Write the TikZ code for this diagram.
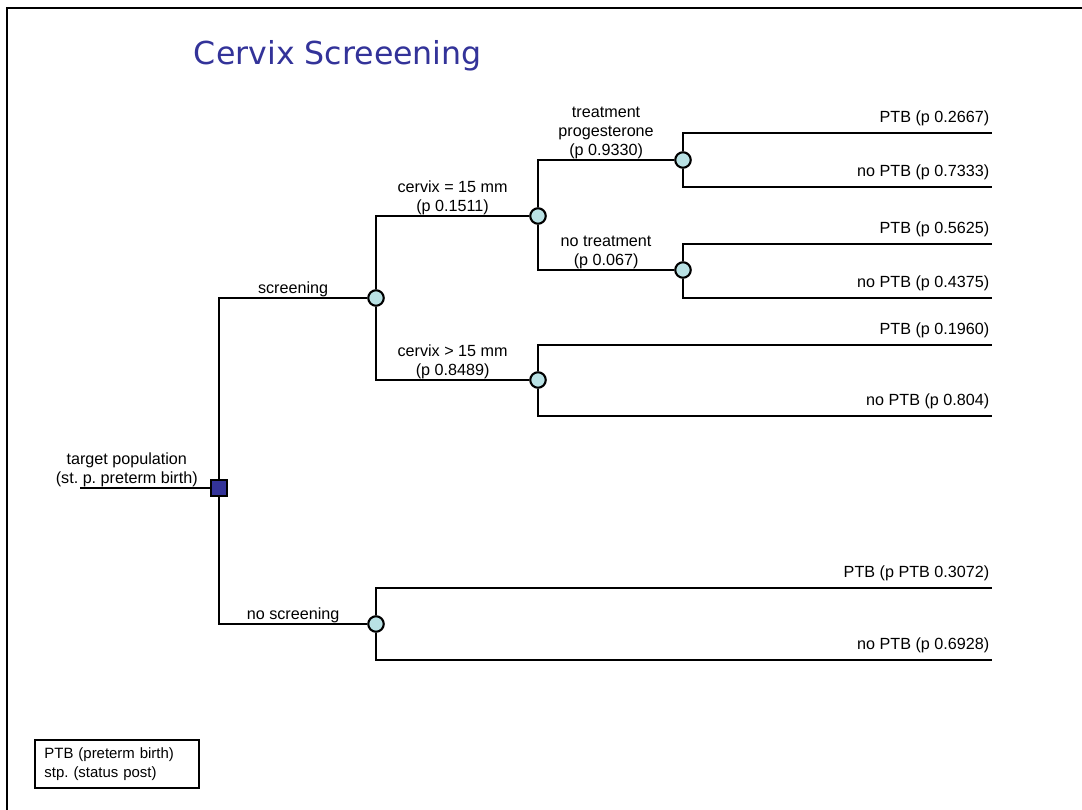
\documentclass[tikz,border=0pt]{standalone}
\usepackage{fontspec}
\setmainfont{Liberation Sans}
\newfontfamily\titlefont{DejaVu Sans}
\definecolor{chancefill}{RGB}{185,225,228}
\definecolor{deepblue}{RGB}{51,51,153}
\frenchspacing

\begin{document}
\begin{tikzpicture}[x=0.02cm,y=-0.02cm,line width=1.1pt,
  every node/.style={font=\fontsize{9.2}{10.8}\selectfont},
  decision/.style={draw,fill=deepblue,minimum size=0.32cm,inner sep=0,line width=1.2pt},
  chance/.style={draw,circle,fill=chancefill,minimum size=0.31cm,inner sep=0,line width=1.2pt},
  branch/.style={pos=.75,anchor=south,align=center,inner sep=0,text depth=2pt},
  leaf/.style={anchor=east,yshift=0.3cm,xshift=-1pt,inner sep=0}]
\useasboundingbox (0,0) rectangle (1082,810);
\draw[line width=1.3pt] (7,810) -- (7,8) -- (1082,8);

\node[font=\titlefont\fontsize{18}{20}\selectfont,text=deepblue,anchor=base west,inner sep=0]
  (title) at (193,65) {Cervix Screeening};

% decision and chance nodes
\node[decision] (r) at (219,488) {};
\node[chance] (s1) at (376,298) {};
\node[chance] (s2) at (376,624) {};
\node[chance] (c1) at (538,216) {};
\node[chance] (c2) at (538,380) {};
\node[chance] (d1) at (683,160) {};
\node[chance] (d2) at (683,270) {};

% leaf ends
\coordinate (in) at (80,488);
\coordinate (t1) at (992,133);
\coordinate (t2) at (992,187);
\coordinate (t3) at (992,244);
\coordinate (t4) at (992,298);
\coordinate (t5) at (992,345);
\coordinate (t6) at (992,416);
\coordinate (t7) at (992,588);
\coordinate (t8) at (992,660);

\draw (in) -- (r) node[branch,pos=.36] {target population\\(st. p. preterm birth)};
\draw (r) |- (s1) node[branch] {screening};
\draw (r) |- (s2) node[branch] {no screening};
\draw (s1) |- (c1) node[branch] {cervix = 15 mm\\(p 0.1511)};
\draw (s1) |- (c2) node[branch] {cervix > 15 mm\\(p 0.8489)};
\draw (c1) |- (d1) node[branch] {treatment\\progesterone\\(p 0.9330)};
\draw (c1) |- (d2) node[branch] {no treatment\\(p 0.067)};

\draw (d1) |- (t1) node[leaf] {PTB (p 0.2667)};
\draw (d1) |- (t2) node[leaf] {no PTB (p 0.7333)};
\draw (d2) |- (t3) node[leaf] {PTB (p 0.5625)};
\draw (d2) |- (t4) node[leaf] {no PTB (p 0.4375)};
\draw (c2) |- (t5) node[leaf] {PTB (p 0.1960)};
\draw (c2) |- (t6) node[leaf] {no PTB (p 0.804)};
\draw (s2) |- (t7) node[leaf] {PTB (p PTB 0.3072)};
\draw (s2) |- (t8) node[leaf] {no PTB (p 0.6928)};

\node[draw,line width=1.1pt,anchor=north west,align=left,text width=2.9cm,
  font=\fontsize{8.5}{10.5}\selectfont,
  inner xsep=0.19cm,minimum height=0.96cm] (legend) at (34,739)
  {PTB (preterm birth)\\stp. (status post)};
\end{tikzpicture}
\end{document}
